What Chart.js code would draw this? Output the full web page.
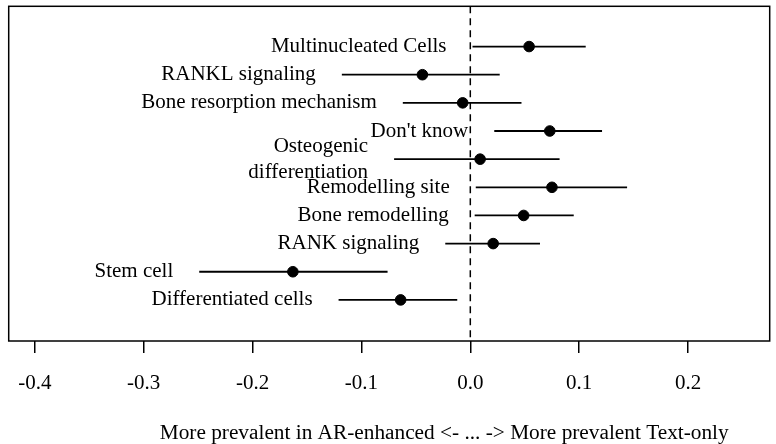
<!DOCTYPE html>
<html>
<head>
<meta charset="utf-8">
<script src="https://cdn.jsdelivr.net/npm/chart.js@4"></script>
<style>
  html, body { margin: 0; padding: 0; background: #fff; }
  #wrap { width: 776px; height: 444px; }
</style>
</head>
<body>
<div id="wrap"><canvas id="chart"></canvas></div>
<script>
const categories = [
  "Multinucleated Cells",
  "RANKL signaling",
  "Bone resorption mechanism",
  "Don't know",
  ["Osteogenic", "differentiation"],
  "Remodelling site",
  "Bone remodelling",
  "RANK signaling",
  "Stem cell",
  "Differentiated cells"
];
const estimates = [0.054, -0.044, -0.007, 0.073, 0.009, 0.075, 0.049, 0.021, -0.163, -0.064];
const lower = [0.002, -0.118, -0.062, 0.022, -0.070, 0.005, 0.004, -0.023, -0.249, -0.121];
const upper = [0.106, 0.027, 0.047, 0.121, 0.082, 0.144, 0.095, 0.064, -0.076, -0.012];
const xTicks = [-0.4, -0.3, -0.2, -0.1, 0.0, 0.1, 0.2];
const xLabel = "More prevalent in AR-enhanced <- ... -> More prevalent Text-only";

const FONT = "'Liberation Serif', 'Times New Roman', serif";
const X_MIN = -0.424, X_MAX = 0.275;
const Y_MIN = -1.43, Y_MAX = 10.46;

const datasets = [];

// reference line at zero
datasets.push({
  type: "line",
  data: [{ x: 0, y: Y_MIN }, { x: 0, y: Y_MAX }],
  borderColor: "#000",
  borderWidth: 1.5,
  borderDash: [7, 5],
  pointRadius: 0
});

// whiskers
categories.forEach((c, i) => {
  datasets.push({
    type: "line",
    data: [{ x: lower[i], y: i }, { x: upper[i], y: i }],
    borderColor: "#000",
    borderWidth: 1.8,
    pointRadius: 0
  });
});

// point estimates
datasets.push({
  type: "scatter",
  data: estimates.map((v, i) => ({ x: v, y: i })),
  backgroundColor: "#000",
  borderColor: "#000",
  pointRadius: 5.3
});

const forestText = {
  id: "forestText",
  afterDraw(chart) {
    const { ctx, chartArea: a, scales: { x, y } } = chart;
    ctx.save();
    ctx.strokeStyle = "#000";
    ctx.lineWidth = 1.5;
    ctx.strokeRect(a.left, a.top, a.right - a.left, a.bottom - a.top);

    ctx.fillStyle = "#000";
    ctx.font = "21px " + FONT;
    ctx.textAlign = "right";
    ctx.textBaseline = "middle";
    categories.forEach((c, i) => {
      const px = x.getPixelForValue(lower[i]) - 26;
      const py = y.getPixelForValue(i);
      if (Array.isArray(c)) {
        ctx.fillText(c[0], px, py - 13);
        ctx.fillText(c[1], px, py + 13);
      } else {
        ctx.fillText(c, px, py);
      }
    });

    ctx.font = "21.3px " + FONT;
    ctx.textAlign = "center";
    ctx.fillText(xLabel, (a.left + a.right) / 2 + 55, 433);
    ctx.restore();
  }
};

new Chart(document.getElementById("chart"), {
  data: { datasets },
  options: {
    responsive: true,
    maintainAspectRatio: false,
    animation: false,
    layout: { padding: { left: 2, right: 3, top: 1, bottom: 50 } },
    plugins: { legend: { display: false }, tooltip: { enabled: false } },
    scales: {
      x: {
        type: "linear",
        min: X_MIN,
        max: X_MAX,
        afterBuildTicks: (s) => { s.ticks = xTicks.map(v => ({ value: v })); },
        afterFit: (s) => { s.height = 53; },
        grid: { drawOnChartArea: false, drawTicks: true, tickLength: 12, color: "#000", lineWidth: 1.5 },
        border: { display: false },
        ticks: {
          color: "#000",
          font: { family: FONT, size: 21 },
          padding: 18,
          maxRotation: 0,
          callback: (v) => Number(v).toFixed(1)
        }
      },
      y: {
        type: "linear",
        display: false,
        reverse: true,
        min: Y_MIN,
        max: Y_MAX
      }
    }
  },
  plugins: [forestText]
});
</script>
</body>
</html>
